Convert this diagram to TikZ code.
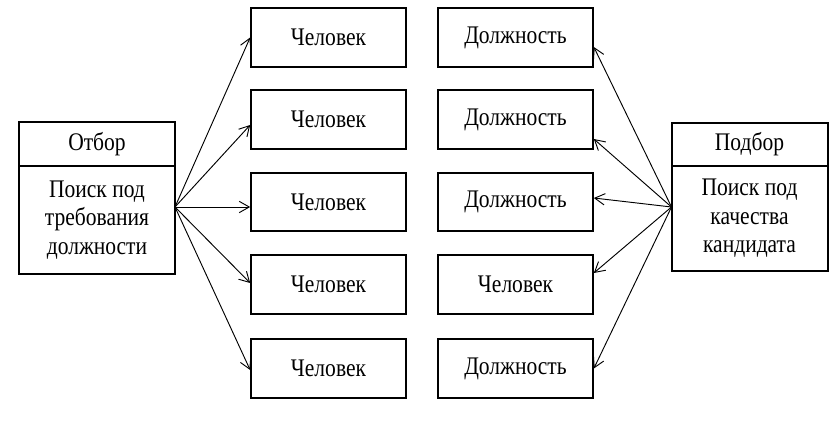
\documentclass[tikz,border=0pt]{standalone}
\usepackage{fontspec}
\setmainfont{Liberation Serif}[FakeStretch=0.85]
\usetikzlibrary{arrows.meta,positioning,calc}
\tikzset{>={Straight Barb[length=7.5pt,width=8.5pt]}}
\tikzset{
  box/.style={draw,line width=1.5pt,minimum width=116pt,minimum height=44pt,
    inner sep=0pt,font=\fontsize{19}{21.4}\selectfont},
  head/.style={box,outer sep=0pt,minimum width=117pt,minimum height=33pt},
  body/.style={box,outer sep=0pt,minimum width=117pt,minimum height=81pt,align=center},
}

\begin{document}
\begin{tikzpicture}[x=0.75pt,y=-0.75pt,line width=0.7pt]
  \useasboundingbox (0,0) rectangle (839,425);
  % selection
  \node[head] (otbor) at (97,144) {Отбор};
  \node[body,below=0pt of otbor] (otborbody) {Поиск под\\требования\\должности};
  % recruitment
  \node[head,minimum height=32pt] (podbor) at (749.5,144.5) {Подбор};
  \node[body,below=0pt of podbor,minimum height=79pt] (podborbody) {Поиск под\\качества\\кандидата};
  % people
  \node[box] (pers1) at (328.5,37.5)  {Человек};
  \node[box] (pers2) at (328.5,119.5) {Человек};
  \node[box] (pers3) at (328.5,202)   {Человек};
  \node[box] (pers4) at (328.5,284.5) {Человек};
  \node[box] (pers5) at (328.5,368.5) {Человек};
  % positions
  \node[box] (pos1) at (515.5,37.5)  {Должность};
  \node[box] (pos2) at (515.5,119.5) {Должность};
  \node[box] (pos3) at (515.5,202)   {Должность};
  \node[box] (pos4) at (515.5,284.5) {Человек};
  \node[box] (pos5) at (515.5,368.5) {Должность};
  % arrows
  \draw[->] ($(otborbody.east)+(0,-13)$) -- (pers1.west);
  \draw[->] ($(otborbody.east)+(0,-13)$) -- ($(pers2.west)+(0,5.5)$);
  \draw[->] ($(otborbody.east)+(0,-13)$) -- ($(pers3.west)+(0,5)$);
  \draw[->] ($(otborbody.east)+(0,-13)$) -- ($(pers4.west)+(0,-1.5)$);
  \draw[->] ($(otborbody.east)+(0,-13)$) -- ($(pers5.west)+(0,1.5)$);
  \draw[->] ($(podborbody.west)+(0,-11.5)$) -- ($(pos1.east)+(0,9.5)$);
  \draw[->] ($(podborbody.west)+(0,-11.5)$) -- ($(pos2.east)+(0,19.5)$);
  \draw[->] ($(podborbody.west)+(0,-11.5)$) -- ($(pos3.east)+(0,-4)$);
  \draw[->] ($(podborbody.west)+(0,-11.5)$) -- ($(pos4.east)+(0,-11.5)$);
  \draw[->] ($(podborbody.west)+(0,-11.5)$) -- (pos5.east);
\end{tikzpicture}
\end{document}
